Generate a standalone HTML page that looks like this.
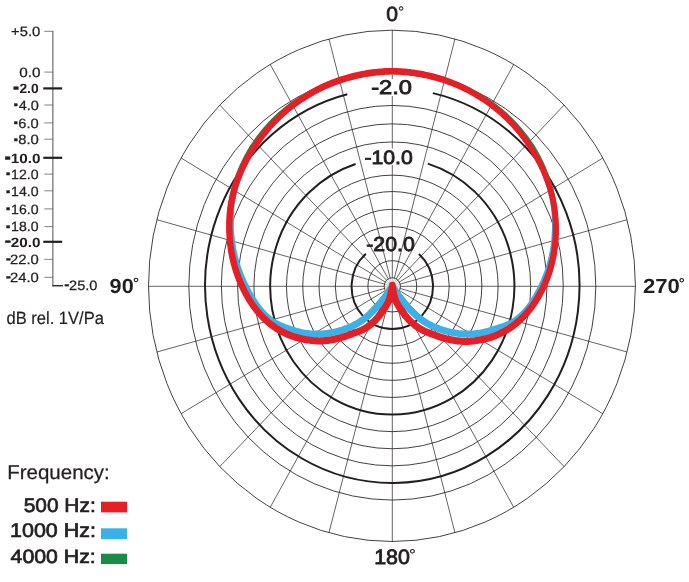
<!DOCTYPE html>
<html lang="en"><head><meta charset="utf-8"><title>Polar pattern</title>
<style>html,body{margin:0;padding:0;background:#fff}svg{display:block}</style></head>
<body>
<svg width="689" height="582" viewBox="0 0 689 582" role="img" aria-label="Polar pattern">
<rect width="689" height="582" fill="#fff"/>
<path d="M392.30 277.75V165M392.30 148.5V96M392.30 79V30.20M390.19 278.04L328.94 38.91M388.23 278.90L270.23 64.45M386.54 280.25L219.80 105.08M385.25 282.03L181.12 158.02M384.44 284.09L156.80 219.68M384.16 286.30L148.50 286.30M384.44 288.51L156.80 352.02M385.25 290.57L181.12 413.67M386.54 292.35L219.80 466.62M388.23 293.70L270.23 507.25M390.19 294.56L328.94 532.79M392.30 294.85V541.50M394.41 294.56L454.96 532.79M396.37 293.70L513.67 507.25M398.06 292.35L564.10 466.62M399.35 290.57L602.78 413.68M400.16 288.51L627.10 352.02M400.44 286.30L635.40 286.30M400.16 284.09L627.10 219.68M399.35 282.03L602.78 158.02M398.06 280.25L564.10 105.08M396.37 278.90L513.68 64.45M394.41 278.04L454.96 38.91" fill="none" stroke="#231f20" stroke-width="0.7"/>
<path d="M392.3 286.3L392.30 277.75M392.3 286.3L390.19 278.04M392.3 286.3L388.23 278.90M392.3 286.3L386.54 280.25M392.3 286.3L385.25 282.03M392.3 286.3L384.44 284.09M392.3 286.3L384.16 286.30M392.3 286.3L384.44 288.51M392.3 286.3L385.25 290.57M392.3 286.3L386.54 292.35M392.3 286.3L388.23 293.70M392.3 286.3L390.19 294.56M392.3 286.3L392.30 294.85M392.3 286.3L394.41 294.56M392.3 286.3L396.37 293.70M392.3 286.3L398.06 292.35M392.3 286.3L399.35 290.57M392.3 286.3L400.16 288.51M392.3 286.3L400.44 286.30M392.3 286.3L400.16 284.09M392.3 286.3L399.35 282.03M392.3 286.3L398.06 280.25M392.3 286.3L396.37 278.90M392.3 286.3L394.41 278.04" fill="none" stroke="#9a9a9c" stroke-width="0.5"/>
<ellipse cx="391.95" cy="285.85" rx="243.45" ry="255.65" fill="none" stroke="#231f20" stroke-width="0.85"/>
<ellipse cx="392.3" cy="286.30" rx="203.50" ry="213.75" fill="none" stroke="#231f20" stroke-width="0.85"/>
<ellipse cx="392.3" cy="285.65" rx="170.94" ry="180.20" fill="none" stroke="#231f20" stroke-width="0.85"/>
<ellipse cx="392.3" cy="286.30" rx="154.66" ry="162.45" fill="none" stroke="#231f20" stroke-width="0.85"/>
<ellipse cx="392.3" cy="286.80" rx="138.38" ry="144.85" fill="none" stroke="#231f20" stroke-width="0.85"/>
<ellipse cx="392.3" cy="286.30" rx="105.82" ry="111.15" fill="none" stroke="#231f20" stroke-width="0.85"/>
<ellipse cx="392.3" cy="285.95" rx="89.54" ry="94.40" fill="none" stroke="#231f20" stroke-width="0.85"/>
<ellipse cx="392.3" cy="286.30" rx="73.26" ry="76.95" fill="none" stroke="#231f20" stroke-width="0.85"/>
<ellipse cx="392.3" cy="286.30" rx="56.98" ry="59.85" fill="none" stroke="#231f20" stroke-width="0.85"/>
<ellipse cx="392.3" cy="286.30" rx="24.42" ry="25.65" fill="none" stroke="#231f20" stroke-width="0.85"/>
<ellipse cx="392.3" cy="286.30" rx="8.14" ry="8.55" fill="none" stroke="#231f20" stroke-width="0.85"/>
<path d="M347.32 94.23A187.22 197.25 0 1 0 432.82 93.13" fill="none" stroke="#231f20" stroke-width="2.0"/>
<path d="M355.58 163.99A122.10 128.25 0 1 0 427.79 163.59" fill="none" stroke="#231f20" stroke-width="2.0"/>
<path d="M365.92 253.74A40.70 42.75 0 1 0 418.89 253.94" fill="none" stroke="#231f20" stroke-width="2.0"/>
<path d="M392.3 286.3L392.5 287.3L392.6 288.4L392.9 289.6L393.1 290.9L393.4 292.2L393.7 293.7L394.2 295.5L394.6 297.2L395.0 298.6L395.3 299.5L395.6 300.4L395.9 301.1L396.2 301.7L396.5 302.3L396.8 302.9L397.1 303.4L397.5 304.0L397.8 304.6L398.2 305.3L398.6 306.0L399.0 306.7L399.4 307.3L399.8 308.0L400.3 308.7L400.8 309.4L401.2 310.1L401.8 310.9L402.3 311.6L402.9 312.4L403.4 313.2L404.1 314.0L404.7 314.9L405.4 315.7L406.0 316.5L406.7 317.4L407.4 318.2L408.1 319.0L408.9 319.7L409.6 320.5L410.3 321.2L411.1 321.9L411.9 322.6L412.6 323.3L413.4 324.0L414.2 324.6L415.0 325.3L415.8 325.9L416.7 326.5L417.5 327.1L418.4 327.6L419.2 328.2L420.1 328.7L420.9 329.2L421.8 329.7L422.6 330.2L423.5 330.6L424.4 331.0L425.2 331.4L426.1 331.7L427.0 332.1L427.9 332.5L428.8 332.8L429.8 333.2L430.7 333.6L431.7 333.9L432.8 334.3L433.8 334.7L434.9 335.1L436.0 335.5L437.2 335.9L438.3 336.4L439.5 336.8L440.7 337.2L441.9 337.5L443.2 337.9L444.4 338.3L445.7 338.6L447.0 338.9L448.3 339.2L449.5 339.5L450.9 339.8L452.2 340.0L453.5 340.3L454.9 340.5L456.2 340.7L457.6 340.9L459.0 341.0L460.4 341.2L461.8 341.3L463.1 341.3L464.5 341.4L465.9 341.4L467.2 341.4L468.6 341.3L469.9 341.3L471.2 341.2L472.6 341.0L473.9 340.9L475.2 340.7L476.6 340.5L477.9 340.3L479.2 340.1L480.6 339.8L481.9 339.6L483.3 339.3L484.6 339.0L486.0 338.6L487.4 338.3L488.8 337.9L490.1 337.5L491.5 337.1L492.8 336.7L494.1 336.2L495.4 335.7L496.7 335.1L498.0 334.6L499.2 334.0L500.5 333.4L501.8 332.8L503.0 332.1L504.2 331.4L505.5 330.7L506.7 330.0L507.9 329.3L509.1 328.5L510.3 327.8L511.4 327.0L512.6 326.1L513.7 325.3L514.8 324.4L515.9 323.5L517.0 322.6L518.1 321.7L519.2 320.8L520.2 319.8L521.2 318.8L522.2 317.8L523.2 316.8L524.2 315.8L525.2 314.7L526.2 313.6L527.1 312.5L528.0 311.4L529.0 310.3L529.9 309.2L530.8 308.0L531.6 306.9L532.5 305.7L533.3 304.5L534.2 303.3L535.0 302.1L535.8 300.8L536.6 299.6L537.4 298.3L538.1 297.0L538.9 295.7L539.6 294.4L540.3 293.1L541.0 291.8L541.7 290.4L542.4 289.1L543.1 287.7L543.7 286.3L544.3 284.9L545.0 283.5L545.6 282.1L546.1 280.7L546.7 279.2L547.3 277.8L547.8 276.3L548.3 274.8L548.8 273.4L549.3 271.9L549.8 270.4L550.2 268.9L550.7 267.3L551.1 265.8L551.5 264.3L551.9 262.7L552.3 261.2L552.6 259.6L553.0 258.1L553.3 256.5L553.6 254.9L553.9 253.3L554.1 251.7L554.4 250.1L554.6 248.5L554.8 246.9L555.0 245.3L555.2 243.6L555.3 242.0L555.4 240.4L555.6 238.7L555.7 237.1L555.7 235.4L555.8 233.8L555.9 232.1L555.9 230.5L555.9 228.8L555.9 227.1L555.9 225.5L555.8 223.8L555.8 222.1L555.7 220.4L555.6 218.7L555.5 217.1L555.3 215.4L555.2 213.7L555.0 212.0L554.8 210.3L554.6 208.6L554.4 206.9L554.1 205.2L553.8 203.5L553.5 201.9L553.2 200.2L552.9 198.5L552.5 196.8L552.2 195.1L551.8 193.5L551.4 191.8L550.9 190.1L550.5 188.4L550.0 186.8L549.5 185.1L549.0 183.5L548.5 181.8L547.9 180.2L547.4 178.5L546.8 176.9L546.2 175.2L545.6 173.6L544.9 171.9L544.3 170.3L543.6 168.7L542.9 167.1L542.2 165.5L541.5 163.9L540.8 162.3L540.0 160.7L539.2 159.1L538.4 157.5L537.6 156.0L536.7 154.4L535.9 152.9L535.0 151.3L534.1 149.8L533.2 148.3L532.2 146.8L531.3 145.3L530.3 143.9L529.3 142.4L528.3 141.0L527.2 139.5L526.2 138.1L525.1 136.7L524.0 135.3L523.0 133.9L521.8 132.5L520.7 131.1L519.6 129.8L518.4 128.4L517.3 127.1L516.1 125.8L514.9 124.4L513.7 123.1L512.4 121.9L511.2 120.6L509.9 119.3L508.7 118.1L507.4 116.9L506.1 115.6L504.8 114.4L503.4 113.3L502.1 112.1L500.7 110.9L499.4 109.8L498.0 108.7L496.6 107.6L495.2 106.5L493.7 105.4L492.3 104.4L490.9 103.3L489.4 102.3L487.9 101.3L486.4 100.3L485.0 99.3L483.5 98.4L481.9 97.4L480.4 96.5L478.9 95.6L477.4 94.7L475.8 93.8L474.2 93.0L472.7 92.1L471.1 91.3L469.5 90.5L467.9 89.7L466.3 88.9L464.7 88.1L463.1 87.4L461.5 86.6L459.9 85.9L458.2 85.2L456.6 84.5L454.9 83.9L453.3 83.2L451.6 82.6L449.9 82.0L448.2 81.4L446.6 80.8L444.9 80.2L443.2 79.7L441.5 79.2L439.8 78.7L438.0 78.2L436.3 77.7L434.6 77.2L432.9 76.8L431.2 76.3L429.4 75.9L427.7 75.5L425.9 75.1L424.2 74.8L422.4 74.4L420.7 74.1L418.9 73.8L417.2 73.5L415.4 73.2L413.6 73.0L411.9 72.7L410.1 72.5L408.3 72.3L406.6 72.1L404.8 71.9L403.0 71.8L401.2 71.7L399.4 71.5L397.7 71.4L395.9 71.4L394.1 71.3L392.3 71.3L390.5 71.3L388.7 71.4L386.9 71.4L385.2 71.5L383.4 71.7L381.6 71.8L379.8 71.9L378.0 72.1L376.3 72.3L374.5 72.5L372.7 72.7L371.0 73.0L369.2 73.2L367.4 73.5L365.7 73.8L363.9 74.1L362.2 74.4L360.4 74.8L358.7 75.1L356.9 75.5L355.2 75.9L353.4 76.3L351.7 76.8L350.0 77.2L348.3 77.7L346.6 78.2L344.8 78.7L343.1 79.2L341.4 79.7L339.7 80.2L338.0 80.8L336.4 81.4L334.7 82.0L333.0 82.6L331.3 83.2L329.7 83.9L328.0 84.5L326.4 85.2L324.7 85.9L323.1 86.6L321.5 87.4L319.9 88.1L318.3 88.9L316.7 89.7L315.1 90.5L313.5 91.3L311.9 92.1L310.4 93.0L308.8 93.8L307.2 94.7L305.7 95.6L304.2 96.5L302.7 97.4L301.1 98.4L299.6 99.3L298.2 100.3L296.7 101.3L295.2 102.3L293.7 103.3L292.3 104.4L290.9 105.4L289.4 106.5L288.0 107.6L286.6 108.7L285.2 109.8L283.9 110.9L282.5 112.1L281.2 113.3L279.8 114.4L278.5 115.6L277.2 116.9L275.9 118.1L274.7 119.3L273.4 120.6L272.2 121.9L270.9 123.1L269.7 124.4L268.5 125.8L267.3 127.1L266.2 128.4L265.0 129.8L263.9 131.1L262.8 132.5L261.6 133.9L260.6 135.3L259.5 136.7L258.4 138.1L257.4 139.5L256.3 141.0L255.3 142.4L254.3 143.9L253.3 145.3L252.4 146.8L251.4 148.3L250.5 149.8L249.6 151.3L248.7 152.9L247.9 154.4L247.0 156.0L246.2 157.5L245.4 159.1L244.6 160.7L243.8 162.2L243.1 163.8L242.3 165.4L241.6 167.1L240.9 168.7L240.3 170.3L239.6 171.9L239.0 173.5L238.4 175.2L237.8 176.8L237.2 178.5L236.7 180.1L236.1 181.8L235.6 183.4L235.1 185.1L234.6 186.8L234.1 188.4L233.7 190.1L233.3 191.8L232.9 193.5L232.5 195.1L232.1 196.8L231.8 198.5L231.5 200.2L231.2 201.9L230.9 203.6L230.6 205.3L230.4 207.0L230.2 208.7L230.0 210.4L229.9 212.1L229.7 213.8L229.6 215.5L229.5 217.2L229.4 218.9L229.3 220.6L229.3 222.3L229.3 224.0L229.3 225.7L229.3 227.3L229.3 229.0L229.3 230.7L229.4 232.3L229.5 234.0L229.6 235.7L229.7 237.3L229.8 239.0L229.9 240.6L230.1 242.2L230.3 243.9L230.5 245.5L230.7 247.1L230.9 248.7L231.2 250.3L231.4 251.9L231.7 253.5L232.0 255.1L232.3 256.7L232.7 258.2L233.0 259.8L233.4 261.4L233.8 262.9L234.2 264.4L234.6 266.0L235.0 267.5L235.5 269.0L235.9 270.5L236.4 272.0L236.9 273.5L237.4 274.9L238.0 276.4L238.5 277.8L239.1 279.3L239.7 280.7L240.3 282.1L240.9 283.5L241.5 284.9L242.1 286.3L242.8 287.7L243.4 289.0L244.1 290.4L244.8 291.7L245.5 293.0L246.2 294.3L246.9 295.6L247.6 296.9L248.4 298.2L249.1 299.5L249.9 300.7L250.7 301.9L251.5 303.1L252.3 304.4L253.1 305.5L254.0 306.7L254.8 307.9L255.7 309.0L256.6 310.2L257.5 311.3L258.4 312.4L259.3 313.4L260.3 314.5L261.2 315.6L262.2 316.6L263.2 317.6L264.2 318.6L265.2 319.6L266.2 320.5L267.3 321.5L268.3 322.4L269.4 323.3L270.5 324.2L271.6 325.0L272.8 325.9L273.9 326.7L275.1 327.5L276.3 328.3L277.5 329.0L278.7 329.7L279.9 330.5L281.1 331.1L282.3 331.8L283.6 332.4L284.8 333.1L286.1 333.6L287.4 334.2L288.7 334.8L289.9 335.3L291.2 335.8L292.5 336.3L293.9 336.7L295.2 337.1L296.6 337.5L297.9 337.9L299.3 338.2L300.7 338.6L302.0 338.9L303.4 339.1L304.7 339.4L306.1 339.7L307.4 339.9L308.7 340.1L310.1 340.3L311.4 340.4L312.7 340.6L314.0 340.7L315.4 340.8L316.7 340.9L318.1 340.9L319.4 340.9L320.8 340.9L322.1 340.8L323.5 340.8L324.9 340.6L326.3 340.5L327.6 340.3L329.0 340.1L330.4 339.9L331.7 339.7L333.0 339.5L334.4 339.2L335.7 338.9L336.9 338.6L338.2 338.3L339.5 338.0L340.8 337.7L342.0 337.3L343.3 336.9L344.5 336.5L345.7 336.1L346.9 335.7L348.1 335.3L349.2 334.9L350.3 334.5L351.4 334.1L352.4 333.7L353.4 333.3L354.3 333.0L355.3 332.7L356.2 332.3L357.0 332.0L357.9 331.7L358.7 331.4L359.6 331.1L360.4 330.8L361.2 330.4L362.1 330.0L362.9 329.6L363.7 329.2L364.5 328.7L365.4 328.2L366.2 327.7L367.1 327.1L367.9 326.5L368.7 325.9L369.5 325.3L370.4 324.7L371.2 324.0L372.0 323.3L372.7 322.6L373.5 321.9L374.3 321.2L375.0 320.5L375.7 319.7L376.5 319.0L377.2 318.2L377.9 317.4L378.6 316.5L379.2 315.7L379.9 314.9L380.5 314.0L381.2 313.2L381.7 312.4L382.3 311.6L382.8 310.9L383.4 310.1L383.8 309.4L384.3 308.7L384.8 308.0L385.2 307.3L385.6 306.7L386.0 306.0L386.4 305.3L386.8 304.6L387.1 304.0L387.5 303.4L387.8 302.9L388.1 302.3L388.4 301.7L388.7 301.1L389.0 300.4L389.3 299.5L389.6 298.6L390.0 297.2L390.4 295.5L390.9 293.7L391.2 292.2L391.5 290.9L391.7 289.6L392.0 288.4L392.1 287.3L392.3 286.3" fill="none" stroke="#1b8b4a" stroke-width="5.2" stroke-linejoin="round" stroke-linecap="round"/>
<path d="M389.4 288.2L392.3 292.5L395.1 296.5L397.8 300.1L400.3 303.3L402.7 306.4L404.9 309.0L406.8 311.1L408.5 313.0L410.2 314.6L411.8 316.1L413.3 317.5L414.8 318.9L416.4 320.1L417.9 321.3L419.3 322.4L420.8 323.4L422.2 324.4L423.7 325.3L425.1 326.2L426.5 327.0L427.9 327.7L429.2 328.4L430.6 329.1L432.0 329.7L433.4 330.3L434.8 330.9L436.2 331.5L437.6 332.0L439.1 332.5L440.5 333.0L442.0 333.5L443.5 334.0L444.9 334.4L446.4 334.8L447.9 335.1L449.4 335.5L450.9 335.8L452.5 336.1L454.0 336.4L455.5 336.6L457.1 336.8L458.6 337.0L460.2 337.2L461.8 337.3L463.3 337.4L464.9 337.5L466.4 337.5L468.0 337.5L469.6 337.5L471.1 337.5L472.7 337.4L474.2 337.3L475.8 337.2L477.3 337.0L478.9 336.8L480.4 336.6L481.9 336.3L483.5 336.0L485.0 335.7L486.4 335.3L487.9 334.9L489.3 334.5L490.7 334.1L492.1 333.6L493.6 333.2L495.0 332.7L496.5 332.3L498.0 331.8L499.6 331.3L501.2 330.8L502.8 330.3L504.5 329.7L506.1 329.1L507.8 328.5L509.4 327.8L511.1 327.1L512.7 326.3L514.2 325.5L515.7 324.6L517.1 323.7L518.4 322.7L519.6 321.8L520.8 320.8L522.0 319.8L523.2 318.8L524.3 317.7L525.4 316.7L526.5 315.6L527.5 314.5L528.5 313.3L529.5 312.2L530.5 311.0L531.4 309.8L532.3 308.7L533.2 307.4L534.1 306.2L535.0 305.0L535.8 303.7L536.6 302.5L537.5 301.2L538.2 299.9L539.0 298.6L539.8 297.3L540.5 296.0L541.3 294.6L542.0 293.3L542.7 291.9L543.4 290.6L544.1 289.2L544.8 287.8L545.4 286.4L546.1 285.0L546.8 283.5L547.4 282.1L548.0 280.6L548.6 279.1L549.2 277.7L549.7 276.2L550.3 274.7L550.8 273.1L551.3 271.6L551.8 270.1L552.2 268.5L552.7 267.0L553.1 265.4L553.5 263.8L553.9 262.2L554.3 260.6L554.7 259.0L555.0 257.4L555.3 255.8L555.6 254.2L555.9 252.6L556.2 250.9L556.4 249.3L556.6 247.6L556.8 246.0L557.0 244.3L557.2 242.7L557.3 241.0L557.4 239.3L557.5 237.6L557.6 236.0L557.7 234.3L557.8 232.6L557.8 230.9L557.8 229.2L557.8 227.5L557.8 225.8L557.8 224.1L557.7 222.4L557.6 220.7L557.5 219.0L557.4 217.2L557.3 215.5L557.1 213.8L557.0 212.1L556.8 210.4L556.5 208.6L556.3 206.9L556.0 205.2L555.7 203.5L555.4 201.8L555.1 200.1L554.7 198.3L554.4 196.6L554.0 194.9L553.5 193.2L553.1 191.6L552.6 189.9L552.1 188.2L551.6 186.5L551.1 184.9L550.5 183.2L550.0 181.6L549.4 179.9L548.8 178.3L548.1 176.6L547.5 175.0L546.8 173.4L546.1 171.8L545.4 170.2L544.7 168.5L544.0 167.0L543.2 165.4L542.4 163.8L541.6 162.2L540.8 160.6L540.0 159.1L539.1 157.5L538.3 156.0L537.4 154.5L536.5 152.9L535.6 151.4L534.7 149.9L533.7 148.4L532.8 146.9L531.8 145.4L530.8 144.0L529.8 142.5L528.8 141.0L527.8 139.6L526.8 138.1L525.7 136.7L524.6 135.3L523.5 133.9L522.4 132.5L521.3 131.1L520.2 129.7L519.0 128.3L517.9 127.0L516.7 125.6L515.5 124.3L514.3 122.9L513.1 121.6L511.9 120.3L510.6 119.0L509.4 117.8L508.1 116.5L506.8 115.2L505.5 114.0L504.2 112.8L502.9 111.6L501.5 110.4L500.1 109.2L498.8 108.0L497.4 106.9L496.0 105.7L494.6 104.6L493.1 103.5L491.7 102.5L490.3 101.4L488.8 100.3L487.3 99.3L485.9 98.3L484.4 97.3L482.9 96.3L481.4 95.3L479.8 94.3L478.3 93.4L476.8 92.4L475.2 91.5L473.6 90.6L472.1 89.7L470.5 88.8L468.9 88.0L467.3 87.1L465.7 86.3L464.0 85.5L462.4 84.7L460.8 84.0L459.1 83.2L457.5 82.5L455.8 81.8L454.1 81.1L452.4 80.4L450.8 79.8L449.1 79.2L447.3 78.6L445.6 78.0L443.9 77.4L442.2 76.9L440.5 76.3L438.7 75.8L437.0 75.3L435.3 74.8L433.5 74.3L431.8 73.9L430.0 73.5L428.3 73.0L426.5 72.6L424.7 72.3L422.9 71.9L421.2 71.6L419.4 71.2L417.6 70.9L415.8 70.6L414.0 70.4L412.2 70.1L410.4 69.9L408.6 69.7L406.8 69.5L405.0 69.3L403.2 69.1L401.4 69.0L399.6 68.9L397.8 68.8L396.0 68.7L394.1 68.7L392.3 68.6L390.5 68.7L388.6 68.7L386.8 68.8L385.0 68.9L383.2 69.0L381.4 69.1L379.6 69.3L377.8 69.4L376.0 69.6L374.2 69.8L372.4 70.0L370.6 70.3L368.8 70.6L367.0 70.8L365.2 71.1L363.4 71.5L361.6 71.8L359.9 72.2L358.1 72.5L356.3 72.9L354.6 73.3L352.8 73.8L351.0 74.2L349.3 74.7L347.6 75.2L345.8 75.7L344.1 76.2L342.4 76.7L340.6 77.3L338.9 77.8L337.2 78.4L335.5 79.0L333.8 79.6L332.1 80.3L330.4 80.9L328.7 81.6L327.1 82.3L325.4 83.1L323.7 83.8L322.1 84.6L320.5 85.3L318.8 86.1L317.2 87.0L315.6 87.8L314.0 88.6L312.4 89.5L310.9 90.4L309.3 91.3L307.7 92.2L306.2 93.2L304.6 94.1L303.1 95.1L301.6 96.1L300.1 97.1L298.6 98.1L297.1 99.1L295.7 100.1L294.2 101.2L292.7 102.2L291.3 103.3L289.9 104.4L288.5 105.5L287.0 106.7L285.7 107.8L284.3 109.0L282.9 110.2L281.6 111.4L280.2 112.6L278.9 113.8L277.6 115.0L276.3 116.3L275.0 117.5L273.8 118.8L272.5 120.1L271.3 121.4L270.0 122.7L268.8 124.1L267.7 125.4L266.5 126.8L265.3 128.1L264.2 129.5L263.0 130.9L261.9 132.3L260.8 133.7L259.7 135.1L258.7 136.5L257.6 138.0L256.6 139.4L255.5 140.9L254.5 142.3L253.5 143.8L252.5 145.3L251.6 146.8L250.6 148.3L249.7 149.8L248.8 151.3L247.9 152.8L247.0 154.4L246.1 155.9L245.3 157.5L244.4 159.0L243.6 160.6L242.8 162.2L242.0 163.8L241.3 165.4L240.5 167.0L239.8 168.6L239.1 170.2L238.4 171.8L237.7 173.4L237.1 175.1L236.5 176.7L235.8 178.4L235.2 180.0L234.7 181.7L234.1 183.3L233.6 185.0L233.1 186.7L232.6 188.4L232.1 190.1L231.7 191.8L231.3 193.5L230.9 195.2L230.5 196.9L230.2 198.6L229.8 200.4L229.6 202.1L229.3 203.8L229.0 205.6L228.8 207.3L228.6 209.0L228.4 210.8L228.3 212.5L228.2 214.2L228.1 216.0L228.0 217.7L227.9 219.4L227.9 221.2L227.8 222.9L227.8 224.6L227.8 226.3L227.9 228.0L227.9 229.7L228.0 231.4L228.1 233.1L228.2 234.8L228.3 236.5L228.5 238.2L228.6 239.8L228.8 241.5L229.0 243.2L229.2 244.8L229.4 246.5L229.6 248.1L229.9 249.8L230.2 251.4L230.5 253.0L230.8 254.7L231.2 256.3L231.5 257.9L231.9 259.5L232.3 261.1L232.7 262.6L233.1 264.2L233.6 265.8L234.1 267.3L234.5 268.9L235.0 270.4L235.6 271.9L236.1 273.4L236.7 274.9L237.2 276.4L237.8 277.9L238.4 279.3L239.0 280.8L239.6 282.2L240.3 283.6L240.9 285.1L241.6 286.5L242.3 287.8L243.0 289.2L243.7 290.6L244.4 291.9L245.1 293.2L245.8 294.5L246.5 295.8L247.2 297.1L248.0 298.4L248.7 299.7L249.5 301.0L250.3 302.2L251.1 303.5L251.9 304.7L252.7 305.9L253.6 307.1L254.5 308.3L255.3 309.5L256.3 310.6L257.2 311.8L258.1 312.9L259.1 314.0L260.1 315.1L261.1 316.2L262.2 317.3L263.2 318.3L264.3 319.3L265.5 320.3L266.6 321.3L267.8 322.3L269.0 323.2L270.3 324.1L271.7 325.0L273.1 325.9L274.5 326.7L276.0 327.4L277.5 328.1L279.0 328.8L280.6 329.4L282.1 330.0L283.6 330.6L285.1 331.2L286.6 331.7L288.1 332.2L289.5 332.7L290.9 333.2L292.4 333.7L293.8 334.1L295.3 334.5L296.7 335.0L298.2 335.3L299.6 335.7L301.1 336.0L302.7 336.3L304.2 336.6L305.7 336.8L307.3 337.0L308.8 337.2L310.4 337.3L311.9 337.4L313.5 337.5L315.0 337.5L316.6 337.5L318.2 337.5L319.7 337.5L321.3 337.4L322.8 337.3L324.4 337.2L326.0 337.0L327.5 336.8L329.1 336.6L330.6 336.4L332.1 336.1L333.7 335.8L335.2 335.5L336.7 335.1L338.2 334.8L339.7 334.4L341.1 334.0L342.6 333.5L344.1 333.0L345.5 332.5L347.0 332.0L348.4 331.5L349.8 330.9L351.2 330.3L352.6 329.7L354.0 329.1L355.4 328.4L356.7 327.7L358.1 327.0L359.5 326.2L360.9 325.3L362.4 324.4L363.8 323.4L365.3 322.4L366.7 321.3L368.2 320.1L369.8 318.9L371.3 317.5L372.8 316.1L374.4 314.6L376.1 313.0L377.8 311.1L379.7 309.0L381.9 306.4L384.3 303.3L386.8 300.1L389.5 296.5L392.3 292.5L395.2 288.2L389.4 284.4L386.6 288.6L383.9 292.4L381.3 295.9L378.9 299.1L376.6 302.0L374.5 304.5L372.7 306.4L371.1 308.2L369.6 309.7L368.1 311.1L366.7 312.4L365.3 313.6L363.9 314.8L362.5 315.8L361.2 316.8L359.9 317.8L358.6 318.6L357.3 319.5L356.0 320.2L354.8 320.9L353.5 321.6L352.3 322.2L351.1 322.8L349.8 323.4L348.5 324.0L347.2 324.5L345.9 325.1L344.6 325.6L343.2 326.0L341.9 326.5L340.6 326.9L339.2 327.3L337.8 327.7L336.5 328.1L335.1 328.4L333.7 328.7L332.3 329.0L330.9 329.3L329.5 329.6L328.0 329.8L326.6 330.0L325.2 330.2L323.8 330.3L322.3 330.4L320.9 330.5L319.5 330.6L318.0 330.6L316.6 330.6L315.2 330.6L313.7 330.6L312.3 330.5L310.9 330.4L309.5 330.3L308.1 330.1L306.7 330.0L305.3 329.8L303.9 329.5L302.5 329.3L301.2 329.0L299.9 328.6L298.5 328.3L297.2 327.9L295.8 327.5L294.5 327.1L293.1 326.6L291.8 326.2L290.3 325.7L288.9 325.2L287.5 324.7L286.0 324.2L284.6 323.6L283.2 323.0L281.8 322.5L280.4 321.8L279.1 321.2L277.8 320.5L276.5 319.9L275.3 319.2L274.2 318.4L273.1 317.7L272.1 316.8L271.0 316.0L270.0 315.1L269.0 314.2L268.0 313.3L267.0 312.4L266.1 311.4L265.2 310.4L264.3 309.4L263.4 308.4L262.5 307.4L261.7 306.3L260.8 305.3L260.0 304.2L259.2 303.1L258.4 302.0L257.6 300.8L256.9 299.7L256.1 298.5L255.4 297.3L254.7 296.1L253.9 294.9L253.2 293.7L252.5 292.5L251.8 291.2L251.1 290.0L250.5 288.7L249.8 287.4L249.1 286.1L248.5 284.8L247.8 283.4L247.2 282.1L246.5 280.8L245.9 279.4L245.3 278.0L244.7 276.7L244.1 275.3L243.6 273.9L243.0 272.5L242.5 271.1L242.0 269.6L241.4 268.2L240.9 266.8L240.5 265.3L240.0 263.8L239.5 262.3L239.1 260.9L238.7 259.4L238.3 257.9L237.9 256.3L237.5 254.8L237.2 253.3L236.8 251.8L236.5 250.2L236.2 248.7L236.0 247.1L235.7 245.5L235.5 244.0L235.2 242.4L235.0 240.8L234.8 239.2L234.7 237.6L234.5 236.0L234.4 234.4L234.2 232.7L234.1 231.1L234.0 229.5L233.9 227.8L233.9 226.2L233.8 224.5L233.8 222.9L233.8 221.2L233.8 219.6L233.8 217.9L233.9 216.2L233.9 214.6L234.0 212.9L234.2 211.2L234.3 209.6L234.4 207.9L234.6 206.3L234.8 204.6L235.1 202.9L235.3 201.3L235.6 199.6L235.9 198.0L236.2 196.3L236.6 194.7L236.9 193.1L237.4 191.4L237.8 189.8L238.2 188.2L238.7 186.6L239.2 185.0L239.7 183.3L240.2 181.7L240.8 180.1L241.4 178.5L242.0 176.9L242.6 175.4L243.2 173.8L243.9 172.2L244.5 170.6L245.2 169.1L245.9 167.5L246.6 166.0L247.4 164.4L248.1 162.9L248.9 161.4L249.7 159.9L250.5 158.4L251.4 156.9L252.2 155.4L253.1 153.9L254.0 152.4L254.9 150.9L255.8 149.5L256.7 148.0L257.7 146.6L258.6 145.2L259.6 143.7L260.6 142.3L261.6 140.9L262.7 139.5L263.7 138.1L264.8 136.8L265.8 135.4L266.9 134.0L268.0 132.7L269.2 131.4L270.3 130.0L271.4 128.7L272.6 127.4L273.8 126.2L275.0 124.9L276.2 123.6L277.4 122.4L278.6 121.1L279.9 119.9L281.1 118.7L282.4 117.5L283.7 116.4L285.0 115.2L286.3 114.0L287.6 112.9L289.0 111.8L290.3 110.7L291.7 109.6L293.0 108.5L294.4 107.5L295.8 106.4L297.3 105.4L298.7 104.4L300.1 103.4L301.6 102.4L303.0 101.4L304.5 100.5L306.0 99.5L307.5 98.6L308.9 97.7L310.4 96.8L312.0 95.9L313.5 95.1L315.0 94.2L316.6 93.4L318.1 92.6L319.7 91.8L321.2 91.0L322.8 90.2L324.4 89.5L326.0 88.7L327.6 88.0L329.2 87.3L330.8 86.6L332.4 86.0L334.1 85.4L335.7 84.7L337.3 84.1L339.0 83.6L340.6 83.0L342.3 82.5L344.0 81.9L345.7 81.4L347.3 80.9L349.0 80.5L350.7 80.0L352.4 79.5L354.1 79.1L355.8 78.7L357.5 78.3L359.3 77.9L361.0 77.6L362.7 77.2L364.4 76.9L366.1 76.6L367.9 76.3L369.6 76.0L371.3 75.8L373.1 75.6L374.8 75.3L376.6 75.1L378.3 75.0L380.1 74.8L381.8 74.7L383.6 74.5L385.3 74.4L387.1 74.4L388.8 74.3L390.6 74.3L392.3 74.2L394.0 74.3L395.8 74.3L397.5 74.3L399.3 74.4L401.0 74.5L402.8 74.6L404.5 74.8L406.3 74.9L408.0 75.1L409.8 75.3L411.5 75.5L413.3 75.7L415.0 76.0L416.7 76.2L418.5 76.5L420.2 76.8L421.9 77.1L423.6 77.5L425.4 77.8L427.1 78.2L428.8 78.6L430.5 79.0L432.2 79.4L433.9 79.9L435.6 80.3L437.3 80.8L439.0 81.3L440.7 81.8L442.3 82.3L444.0 82.8L445.7 83.4L447.3 84.0L449.0 84.6L450.6 85.2L452.2 85.8L453.9 86.5L455.5 87.1L457.1 87.8L458.7 88.5L460.3 89.3L461.9 90.0L463.5 90.8L465.0 91.6L466.6 92.4L468.1 93.2L469.7 94.0L471.2 94.9L472.8 95.7L474.3 96.6L475.8 97.5L477.3 98.4L478.8 99.3L480.2 100.3L481.7 101.2L483.2 102.2L484.6 103.2L486.1 104.2L487.5 105.2L488.9 106.2L490.3 107.3L491.7 108.3L493.1 109.4L494.5 110.5L495.8 111.6L497.2 112.7L498.5 113.8L499.8 115.0L501.1 116.2L502.4 117.3L503.7 118.5L504.9 119.7L506.2 121.0L507.4 122.2L508.6 123.4L509.8 124.7L511.0 126.0L512.2 127.3L513.4 128.6L514.5 129.9L515.7 131.2L516.8 132.5L517.9 133.9L519.0 135.2L520.1 136.6L521.1 138.0L522.2 139.4L523.2 140.8L524.2 142.2L525.2 143.6L526.2 145.0L527.2 146.4L528.1 147.9L529.1 149.3L530.0 150.8L530.9 152.2L531.8 153.7L532.7 155.2L533.5 156.7L534.4 158.2L535.2 159.7L536.0 161.2L536.8 162.7L537.6 164.3L538.3 165.8L539.0 167.3L539.8 168.9L540.5 170.5L541.1 172.0L541.8 173.6L542.4 175.2L543.1 176.7L543.7 178.3L544.2 179.9L544.8 181.5L545.4 183.1L545.9 184.7L546.4 186.4L546.9 188.0L547.3 189.6L547.8 191.2L548.2 192.8L548.6 194.5L549.0 196.1L549.4 197.7L549.7 199.4L550.0 201.0L550.3 202.7L550.5 204.3L550.8 206.0L551.0 207.6L551.2 209.3L551.4 210.9L551.5 212.6L551.7 214.3L551.8 215.9L551.9 217.6L551.9 219.2L552.0 220.9L552.0 222.5L552.0 224.2L552.0 225.8L552.0 227.5L552.0 229.1L551.9 230.7L551.8 232.4L551.7 234.0L551.6 235.6L551.5 237.2L551.4 238.8L551.2 240.4L551.1 242.0L550.9 243.6L550.7 245.2L550.4 246.8L550.2 248.3L549.9 249.9L549.7 251.5L549.4 253.0L549.0 254.5L548.7 256.1L548.3 257.6L548.0 259.1L547.6 260.6L547.2 262.1L546.8 263.6L546.3 265.1L545.9 266.6L545.4 268.0L544.9 269.5L544.4 270.9L543.9 272.4L543.3 273.8L542.8 275.2L542.2 276.6L541.7 278.0L541.1 279.4L540.5 280.7L539.8 282.1L539.2 283.4L538.6 284.8L537.9 286.1L537.2 287.5L536.6 288.8L535.9 290.1L535.2 291.3L534.5 292.6L533.8 293.9L533.1 295.1L532.3 296.3L531.6 297.5L530.8 298.7L530.1 299.9L529.3 301.1L528.5 302.2L527.7 303.4L526.8 304.5L526.0 305.6L525.1 306.7L524.2 307.7L523.3 308.8L522.4 309.8L521.5 310.8L520.5 311.8L519.5 312.7L518.5 313.7L517.5 314.6L516.4 315.5L515.3 316.4L514.2 317.2L513.1 318.0L512.0 318.8L510.8 319.5L509.5 320.2L508.2 320.8L506.7 321.5L505.3 322.1L503.8 322.7L502.2 323.2L500.7 323.7L499.1 324.2L497.5 324.7L496.0 325.2L494.4 325.7L492.9 326.2L491.5 326.6L490.1 327.1L488.7 327.5L487.3 327.9L486.0 328.3L484.7 328.6L483.4 329.0L482.0 329.3L480.7 329.5L479.3 329.8L477.9 330.0L476.5 330.1L475.1 330.3L473.7 330.4L472.3 330.5L470.9 330.6L469.4 330.6L468.0 330.6L466.6 330.6L465.1 330.6L463.7 330.5L462.3 330.4L460.8 330.3L459.4 330.2L458.0 330.0L456.6 329.8L455.1 329.6L453.7 329.3L452.3 329.0L450.9 328.7L449.5 328.4L448.1 328.1L446.8 327.7L445.4 327.3L444.0 326.9L442.7 326.5L441.4 326.0L440.0 325.6L438.7 325.1L437.4 324.5L436.1 324.0L434.8 323.4L433.5 322.8L432.3 322.2L431.1 321.6L429.8 320.9L428.6 320.2L427.3 319.5L426.0 318.6L424.7 317.8L423.4 316.8L422.1 315.8L420.7 314.8L419.3 313.6L417.9 312.4L416.5 311.1L415.0 309.7L413.5 308.2L411.9 306.4L410.1 304.5L408.0 302.0L405.7 299.1L403.3 295.9L400.7 292.4L398.0 288.6L395.2 284.4Z" fill="#3ab2e8"/>
<path d="M388.8 286.8L389.0 287.9L389.2 289.0L389.4 290.2L389.7 291.6L390.0 292.9L390.3 294.5L390.8 296.3L391.2 298.1L391.7 299.6L392.0 300.7L392.4 301.7L392.7 302.5L393.1 303.2L393.4 303.9L393.7 304.5L394.1 305.1L394.4 305.7L394.7 306.3L395.1 307.1L395.6 307.8L396.0 308.5L396.4 309.2L396.9 309.9L397.4 310.7L397.9 311.4L398.4 312.1L398.9 312.9L399.4 313.7L400.0 314.5L400.6 315.3L401.3 316.2L401.9 317.0L402.6 317.9L403.3 318.8L404.1 319.6L404.8 320.5L405.6 321.3L406.3 322.2L407.1 323.0L407.9 323.7L408.7 324.5L409.5 325.2L410.3 325.9L411.2 326.6L412.0 327.3L412.9 328.0L413.7 328.7L414.6 329.3L415.5 330.0L416.4 330.6L417.3 331.2L418.3 331.7L419.2 332.3L420.1 332.8L421.0 333.3L422.0 333.7L422.9 334.2L423.8 334.6L424.7 335.0L425.7 335.4L426.6 335.7L427.6 336.1L428.5 336.5L429.5 336.9L430.5 337.2L431.5 337.6L432.6 338.0L433.7 338.4L434.8 338.8L436.0 339.3L437.2 339.7L438.4 340.1L439.6 340.5L440.9 340.9L442.2 341.3L443.5 341.7L444.8 342.0L446.2 342.4L447.5 342.7L448.8 343.0L450.2 343.2L451.5 343.5L452.9 343.7L454.3 344.0L455.7 344.2L457.2 344.4L458.6 344.6L460.1 344.7L461.5 344.8L463.0 344.9L464.4 344.9L465.9 345.0L467.3 344.9L468.7 344.9L470.1 344.8L471.5 344.7L472.9 344.6L474.3 344.4L475.7 344.2L477.1 344.0L478.5 343.8L479.9 343.6L481.3 343.3L482.6 343.0L484.0 342.7L485.4 342.4L486.9 342.1L488.3 341.7L489.7 341.3L491.1 340.9L492.6 340.4L494.0 340.0L495.4 339.4L496.7 338.9L498.1 338.3L499.4 337.8L500.7 337.1L502.0 336.5L503.3 335.9L504.6 335.2L505.9 334.5L507.2 333.8L508.5 333.0L509.7 332.2L511.0 331.4L512.2 330.6L513.4 329.8L514.6 328.9L515.8 328.0L517.0 327.1L518.1 326.2L519.2 325.2L520.4 324.3L521.5 323.3L522.5 322.3L523.6 321.2L524.6 320.2L525.7 319.1L526.7 318.1L527.7 317.0L528.7 315.9L529.7 314.7L530.6 313.6L531.6 312.4L532.5 311.3L533.4 310.1L534.3 308.9L535.2 307.6L536.1 306.4L536.9 305.1L537.8 303.9L538.6 302.6L539.4 301.3L540.2 300.0L541.0 298.7L541.7 297.3L542.5 296.0L543.2 294.6L543.9 293.3L544.6 291.9L545.3 290.5L546.0 289.1L546.7 287.7L547.3 286.2L547.9 284.8L548.5 283.3L549.1 281.9L549.7 280.4L550.3 278.9L550.8 277.4L551.4 275.9L551.9 274.4L552.4 272.9L552.9 271.3L553.3 269.8L553.8 268.2L554.2 266.6L554.6 265.1L555.0 263.5L555.4 261.9L555.7 260.3L556.1 258.7L556.4 257.1L556.7 255.5L557.0 253.8L557.3 252.2L557.5 250.6L557.7 248.9L557.9 247.3L558.1 245.6L558.3 243.9L558.4 242.3L558.5 240.6L558.6 238.9L558.7 237.3L558.8 235.6L558.9 233.9L558.9 232.2L558.9 230.5L558.9 228.8L558.9 227.1L558.9 225.4L558.8 223.7L558.7 222.0L558.6 220.3L558.5 218.6L558.4 216.9L558.2 215.1L558.1 213.4L557.9 211.7L557.7 210.0L557.4 208.3L557.2 206.5L556.9 204.8L556.6 203.1L556.3 201.4L555.9 199.7L555.6 198.0L555.2 196.3L554.8 194.6L554.3 192.9L553.9 191.2L553.4 189.5L552.9 187.8L552.4 186.2L551.8 184.5L551.3 182.8L550.7 181.2L550.1 179.5L549.5 177.9L548.9 176.2L548.2 174.6L547.5 173.0L546.8 171.4L546.1 169.8L545.4 168.1L544.7 166.5L543.9 165.0L543.1 163.4L542.3 161.8L541.5 160.2L540.7 158.7L539.8 157.1L539.0 155.5L538.1 154.0L537.2 152.5L536.3 151.0L535.4 149.4L534.4 147.9L533.5 146.4L532.5 144.9L531.5 143.5L530.5 142.0L529.5 140.5L528.4 139.1L527.4 137.6L526.3 136.2L525.2 134.8L524.2 133.4L523.0 132.0L521.9 130.6L520.8 129.2L519.6 127.8L518.5 126.4L517.3 125.1L516.1 123.7L514.9 122.4L513.7 121.1L512.4 119.7L511.2 118.4L509.9 117.2L508.6 115.9L507.4 114.6L506.0 113.4L504.7 112.2L503.4 110.9L502.0 109.7L500.7 108.5L499.3 107.4L497.9 106.2L496.5 105.1L495.1 104.0L493.6 102.9L492.2 101.8L490.7 100.7L489.3 99.6L487.8 98.6L486.3 97.6L484.8 96.6L483.3 95.6L481.8 94.6L480.2 93.6L478.7 92.6L477.2 91.7L475.6 90.8L474.0 89.9L472.4 89.0L470.9 88.1L469.3 87.2L467.6 86.4L466.0 85.6L464.4 84.8L462.7 84.0L461.1 83.2L459.4 82.5L457.8 81.8L456.1 81.0L454.4 80.4L452.7 79.7L451.0 79.0L449.3 78.4L447.6 77.8L445.9 77.2L444.2 76.6L442.4 76.1L440.7 75.6L439.0 75.0L437.2 74.5L435.5 74.0L433.7 73.6L431.9 73.1L430.2 72.7L428.4 72.3L426.6 71.9L424.9 71.5L423.1 71.1L421.3 70.8L419.5 70.5L417.7 70.2L415.9 69.9L414.1 69.6L412.3 69.4L410.5 69.1L408.7 68.9L406.9 68.7L405.1 68.6L403.3 68.4L401.4 68.3L399.6 68.2L397.8 68.1L396.0 68.0L394.2 67.9L392.3 67.9L390.4 67.9L388.6 68.0L386.8 68.1L385.0 68.1L383.2 68.3L381.3 68.4L379.5 68.5L377.7 68.7L375.9 68.9L374.1 69.1L372.3 69.3L370.5 69.6L368.7 69.8L366.9 70.1L365.1 70.4L363.3 70.7L361.5 71.1L359.7 71.4L357.9 71.8L356.2 72.2L354.4 72.6L352.6 73.0L350.9 73.5L349.1 74.0L347.4 74.4L345.6 74.9L343.9 75.5L342.1 76.0L340.4 76.5L338.7 77.1L337.0 77.7L335.2 78.3L333.5 78.9L331.8 79.6L330.1 80.2L328.5 80.9L326.8 81.6L325.1 82.4L323.4 83.1L321.8 83.9L320.1 84.6L318.5 85.4L316.9 86.3L315.3 87.1L313.7 88.0L312.1 88.8L310.5 89.7L308.9 90.6L307.3 91.5L305.8 92.5L304.3 93.4L302.7 94.4L301.2 95.4L299.7 96.4L298.2 97.4L296.7 98.4L295.2 99.5L293.7 100.5L292.3 101.6L290.8 102.7L289.4 103.8L288.0 104.9L286.6 106.0L285.2 107.2L283.8 108.4L282.4 109.5L281.0 110.7L279.7 112.0L278.4 113.2L277.1 114.4L275.8 115.7L274.5 117.0L273.2 118.3L272.0 119.6L270.7 120.9L269.5 122.2L268.3 123.5L267.1 124.9L265.9 126.2L264.7 127.6L263.6 129.0L262.4 130.4L261.3 131.8L260.2 133.2L259.1 134.6L258.0 136.0L257.0 137.5L255.9 138.9L254.9 140.4L253.9 141.8L252.9 143.3L251.9 144.8L250.9 146.3L249.9 147.8L249.0 149.3L248.1 150.8L247.1 152.3L246.2 153.8L245.4 155.4L244.5 156.9L243.6 158.5L242.8 160.1L242.0 161.6L241.2 163.2L240.4 164.8L239.7 166.4L238.9 168.0L238.2 169.6L237.5 171.2L236.8 172.9L236.1 174.5L235.5 176.1L234.8 177.8L234.2 179.4L233.6 181.1L233.1 182.8L232.5 184.4L232.0 186.1L231.5 187.8L231.0 189.5L230.5 191.2L230.1 192.9L229.7 194.6L229.3 196.3L228.9 198.0L228.6 199.7L228.2 201.5L227.9 203.2L227.7 204.9L227.4 206.7L227.2 208.4L227.0 210.1L226.8 211.9L226.6 213.6L226.5 215.3L226.4 217.1L226.3 218.8L226.2 220.5L226.2 222.2L226.1 223.9L226.1 225.7L226.1 227.4L226.1 229.1L226.2 230.8L226.2 232.5L226.3 234.2L226.4 235.9L226.5 237.5L226.6 239.2L226.7 240.9L226.9 242.5L227.1 244.2L227.3 245.9L227.5 247.5L227.7 249.2L227.9 250.8L228.2 252.5L228.5 254.1L228.8 255.7L229.1 257.3L229.5 258.9L229.8 260.5L230.2 262.1L230.6 263.7L231.0 265.3L231.5 266.8L231.9 268.4L232.4 269.9L232.8 271.5L233.3 273.0L233.9 274.5L234.4 276.0L234.9 277.5L235.5 279.0L236.1 280.5L236.7 281.9L237.3 283.4L237.9 284.8L238.5 286.3L239.2 287.7L239.8 289.1L240.5 290.5L241.2 291.8L241.9 293.2L242.6 294.6L243.3 295.9L244.1 297.2L244.8 298.6L245.6 299.9L246.3 301.2L247.1 302.5L247.9 303.7L248.8 305.0L249.6 306.2L250.4 307.4L251.3 308.7L252.2 309.9L253.1 311.0L254.0 312.2L254.9 313.4L255.9 314.5L256.8 315.6L257.8 316.7L258.8 317.8L259.8 318.9L260.8 320.0L261.8 321.0L262.9 322.0L264.0 323.0L265.0 324.0L266.1 325.0L267.3 325.9L268.4 326.9L269.6 327.8L270.8 328.7L272.0 329.5L273.2 330.3L274.4 331.2L275.6 331.9L276.9 332.7L278.2 333.5L279.4 334.2L280.7 334.9L282.0 335.5L283.3 336.2L284.7 336.8L286.0 337.4L287.3 338.0L288.6 338.5L290.0 339.1L291.4 339.6L292.8 340.1L294.2 340.5L295.6 340.9L297.1 341.3L298.5 341.7L299.9 342.0L301.3 342.3L302.7 342.6L304.1 342.9L305.5 343.1L306.8 343.4L308.2 343.6L309.6 343.8L311.0 344.0L312.4 344.1L313.8 344.2L315.2 344.3L316.6 344.4L318.0 344.5L319.4 344.5L320.9 344.4L322.3 344.4L323.8 344.3L325.2 344.2L326.6 344.0L328.1 343.9L329.5 343.7L330.9 343.4L332.3 343.2L333.7 342.9L335.1 342.7L336.4 342.4L337.7 342.1L339.1 341.8L340.4 341.4L341.7 341.1L343.0 340.7L344.3 340.3L345.6 339.9L346.9 339.4L348.1 339.0L349.3 338.6L350.4 338.2L351.5 337.8L352.6 337.4L353.6 337.0L354.6 336.6L355.5 336.3L356.4 336.0L357.3 335.7L358.2 335.3L359.1 335.0L360.0 334.7L360.9 334.4L361.8 334.0L362.6 333.6L363.5 333.2L364.5 332.8L365.4 332.3L366.3 331.8L367.2 331.2L368.1 330.6L369.0 330.0L369.9 329.4L370.8 328.7L371.7 328.1L372.6 327.4L373.4 326.7L374.3 325.9L375.1 325.2L375.9 324.5L376.7 323.7L377.5 323.0L378.3 322.2L379.0 321.3L379.8 320.5L380.5 319.6L381.3 318.8L382.0 317.9L382.7 317.0L383.3 316.2L384.0 315.3L384.6 314.5L385.2 313.7L385.7 312.9L386.2 312.1L386.7 311.4L387.2 310.7L387.7 309.9L388.2 309.2L388.6 308.5L389.0 307.8L389.5 307.1L389.9 306.3L390.2 305.7L390.5 305.1L390.9 304.5L391.2 303.9L391.5 303.2L391.9 302.5L392.2 301.7L392.6 300.7L392.9 299.6L393.4 298.1L393.8 296.3L394.3 294.5L394.6 292.9L394.9 291.6L395.2 290.2L395.4 289.0L395.6 287.9L395.8 286.8L388.8 285.8L388.7 286.8L388.5 287.8L388.3 288.9L388.1 290.1L387.8 291.4L387.5 292.9L387.0 294.6L386.6 296.3L386.3 297.5L386.0 298.4L385.7 299.1L385.5 299.7L385.2 300.2L385.0 300.7L384.7 301.2L384.4 301.7L384.1 302.3L383.7 303.0L383.4 303.6L383.0 304.2L382.6 304.9L382.2 305.5L381.8 306.1L381.4 306.8L380.9 307.5L380.5 308.2L380.0 308.9L379.5 309.6L378.9 310.4L378.3 311.1L377.8 311.9L377.1 312.7L376.5 313.5L375.9 314.3L375.2 315.1L374.6 315.8L373.9 316.6L373.2 317.3L372.5 318.0L371.8 318.7L371.1 319.3L370.4 320.0L369.7 320.7L368.9 321.3L368.2 321.9L367.4 322.5L366.6 323.1L365.9 323.7L365.1 324.2L364.3 324.8L363.5 325.2L362.8 325.7L362.0 326.1L361.3 326.5L360.6 326.9L359.8 327.2L359.1 327.5L358.3 327.8L357.5 328.1L356.7 328.4L355.9 328.7L355.0 329.0L354.1 329.3L353.2 329.7L352.2 330.0L351.2 330.4L350.1 330.8L349.1 331.1L348.0 331.5L346.9 332.0L345.7 332.4L344.6 332.8L343.4 333.2L342.2 333.5L341.0 333.9L339.8 334.3L338.6 334.6L337.4 334.9L336.2 335.2L334.9 335.5L333.7 335.7L332.4 336.0L331.1 336.2L329.8 336.4L328.5 336.6L327.2 336.8L325.9 337.0L324.5 337.1L323.2 337.2L321.9 337.3L320.7 337.3L319.4 337.4L318.1 337.4L316.9 337.3L315.6 337.3L314.3 337.2L313.1 337.1L311.8 336.9L310.5 336.8L309.3 336.6L308.0 336.4L306.7 336.2L305.4 335.9L304.1 335.7L302.8 335.4L301.4 335.1L300.1 334.8L298.8 334.5L297.5 334.1L296.2 333.8L294.9 333.4L293.7 333.0L292.5 332.5L291.2 332.1L290.0 331.6L288.8 331.0L287.6 330.5L286.3 329.9L285.1 329.3L283.9 328.7L282.8 328.1L281.6 327.5L280.4 326.8L279.3 326.1L278.1 325.4L277.0 324.6L275.9 323.9L274.8 323.1L273.7 322.3L272.6 321.5L271.6 320.7L270.5 319.8L269.5 318.9L268.5 318.1L267.5 317.1L266.6 316.2L265.6 315.2L264.6 314.3L263.7 313.3L262.8 312.3L261.9 311.3L261.0 310.2L260.1 309.2L259.2 308.1L258.3 307.0L257.5 305.9L256.7 304.8L255.8 303.6L255.0 302.5L254.2 301.3L253.5 300.1L252.7 298.9L251.9 297.7L251.2 296.5L250.5 295.3L249.8 294.0L249.0 292.8L248.4 291.5L247.7 290.2L247.0 288.9L246.3 287.6L245.7 286.3L245.1 284.9L244.4 283.6L243.8 282.2L243.2 280.8L242.7 279.5L242.1 278.1L241.5 276.7L241.0 275.3L240.5 273.8L240.0 272.4L239.5 271.0L239.0 269.5L238.5 268.0L238.1 266.6L237.7 265.1L237.3 263.6L236.9 262.1L236.5 260.6L236.1 259.1L235.8 257.5L235.4 256.0L235.1 254.5L234.8 252.9L234.6 251.4L234.3 249.8L234.1 248.2L233.8 246.7L233.6 245.1L233.4 243.5L233.3 241.9L233.1 240.3L233.0 238.7L232.9 237.1L232.8 235.5L232.7 233.9L232.6 232.2L232.6 230.6L232.5 229.0L232.5 227.3L232.5 225.7L232.5 224.0L232.6 222.4L232.6 220.7L232.7 219.1L232.8 217.4L232.9 215.8L233.0 214.1L233.2 212.5L233.3 210.8L233.5 209.2L233.7 207.5L234.0 205.9L234.2 204.2L234.5 202.6L234.8 200.9L235.1 199.3L235.5 197.7L235.8 196.0L236.2 194.4L236.7 192.8L237.1 191.2L237.6 189.6L238.0 188.0L238.6 186.4L239.1 184.8L239.6 183.2L240.2 181.6L240.8 180.0L241.4 178.4L242.0 176.9L242.6 175.3L243.3 173.7L244.0 172.2L244.7 170.6L245.4 169.1L246.1 167.6L246.9 166.0L247.6 164.5L248.4 163.0L249.2 161.5L250.0 160.0L250.8 158.5L251.7 157.0L252.6 155.5L253.4 154.1L254.3 152.6L255.3 151.1L256.2 149.7L257.1 148.3L258.1 146.8L259.1 145.4L260.0 144.0L261.0 142.6L262.1 141.2L263.1 139.8L264.1 138.4L265.2 137.1L266.3 135.7L267.4 134.4L268.5 133.0L269.6 131.7L270.7 130.4L271.8 129.1L273.0 127.8L274.2 126.5L275.3 125.2L276.5 124.0L277.8 122.7L279.0 121.5L280.2 120.3L281.5 119.1L282.7 117.9L284.0 116.7L285.3 115.5L286.6 114.4L287.9 113.3L289.3 112.1L290.6 111.0L292.0 110.0L293.3 108.9L294.7 107.8L296.1 106.8L297.5 105.8L299.0 104.8L300.4 103.8L301.8 102.8L303.3 101.8L304.8 100.9L306.2 99.9L307.7 99.0L309.2 98.1L310.7 97.2L312.2 96.3L313.7 95.4L315.2 94.6L316.8 93.7L318.3 92.9L319.9 92.1L321.4 91.4L323.0 90.6L324.6 89.8L326.2 89.1L327.8 88.4L329.4 87.7L331.0 87.0L332.6 86.4L334.2 85.7L335.8 85.1L337.5 84.5L339.1 84.0L340.8 83.4L342.4 82.9L344.1 82.3L345.8 81.8L347.5 81.3L349.2 80.8L350.8 80.4L352.5 79.9L354.2 79.5L355.9 79.1L357.6 78.7L359.4 78.3L361.1 78.0L362.8 77.6L364.5 77.3L366.2 77.0L368.0 76.7L369.7 76.4L371.4 76.2L373.1 75.9L374.9 75.7L376.6 75.5L378.4 75.4L380.1 75.2L381.8 75.1L383.6 74.9L385.3 74.8L387.1 74.7L388.8 74.7L390.6 74.6L392.3 74.6L394.0 74.6L395.8 74.7L397.5 74.7L399.3 74.8L401.0 74.9L402.8 75.0L404.5 75.2L406.2 75.3L408.0 75.5L409.7 75.7L411.5 75.9L413.2 76.1L414.9 76.4L416.7 76.7L418.4 76.9L420.1 77.2L421.8 77.6L423.5 77.9L425.3 78.3L427.0 78.6L428.7 79.0L430.4 79.4L432.1 79.9L433.8 80.3L435.5 80.8L437.2 81.2L438.8 81.7L440.5 82.2L442.2 82.7L443.9 83.3L445.5 83.8L447.2 84.4L448.8 85.0L450.4 85.6L452.1 86.3L453.7 86.9L455.3 87.6L456.9 88.3L458.5 89.0L460.1 89.7L461.7 90.4L463.2 91.2L464.8 92.0L466.4 92.8L467.9 93.6L469.4 94.4L471.0 95.3L472.5 96.1L474.0 97.0L475.5 97.9L477.0 98.8L478.5 99.7L480.0 100.7L481.4 101.6L482.9 102.6L484.3 103.6L485.8 104.6L487.2 105.6L488.6 106.6L490.0 107.7L491.4 108.7L492.8 109.8L494.1 110.9L495.5 112.0L496.8 113.1L498.1 114.2L499.5 115.3L500.8 116.5L502.0 117.7L503.3 118.9L504.6 120.1L505.8 121.3L507.0 122.5L508.3 123.8L509.5 125.0L510.6 126.3L511.8 127.6L513.0 128.9L514.1 130.2L515.3 131.5L516.4 132.8L517.5 134.2L518.6 135.5L519.6 136.9L520.7 138.2L521.7 139.6L522.8 141.0L523.8 142.4L524.8 143.8L525.8 145.2L526.8 146.7L527.7 148.1L528.7 149.5L529.6 151.0L530.5 152.4L531.4 153.9L532.3 155.4L533.1 156.9L534.0 158.4L534.8 159.9L535.6 161.4L536.4 162.9L537.2 164.4L538.0 165.9L538.7 167.4L539.4 169.0L540.2 170.5L540.8 172.1L541.5 173.6L542.2 175.2L542.8 176.8L543.4 178.4L544.0 179.9L544.6 181.5L545.2 183.1L545.7 184.7L546.3 186.3L546.8 187.9L547.3 189.5L547.7 191.1L548.2 192.8L548.6 194.4L549.0 196.0L549.4 197.6L549.8 199.3L550.1 200.9L550.4 202.5L550.7 204.2L551.0 205.8L551.2 207.5L551.5 209.1L551.7 210.7L551.9 212.4L552.1 214.0L552.2 215.7L552.4 217.3L552.5 219.0L552.6 220.6L552.7 222.3L552.7 223.9L552.8 225.6L552.8 227.2L552.8 228.8L552.8 230.5L552.8 232.1L552.7 233.7L552.6 235.3L552.6 236.9L552.5 238.6L552.4 240.2L552.2 241.8L552.1 243.3L551.9 244.9L551.7 246.5L551.5 248.1L551.3 249.7L551.1 251.2L550.8 252.8L550.5 254.3L550.2 255.9L549.9 257.4L549.6 258.9L549.2 260.5L548.9 262.0L548.5 263.5L548.1 265.0L547.6 266.5L547.2 268.0L546.8 269.4L546.3 270.9L545.8 272.3L545.3 273.8L544.8 275.2L544.3 276.6L543.7 278.0L543.1 279.4L542.6 280.8L542.0 282.2L541.4 283.6L540.8 284.9L540.1 286.3L539.5 287.6L538.8 288.9L538.1 290.2L537.4 291.5L536.7 292.8L536.0 294.1L535.3 295.3L534.5 296.6L533.8 297.8L533.0 299.0L532.2 300.2L531.4 301.4L530.6 302.6L529.8 303.7L529.0 304.9L528.1 306.0L527.2 307.1L526.4 308.2L525.5 309.3L524.6 310.4L523.6 311.4L522.7 312.4L521.8 313.4L520.8 314.4L519.8 315.4L518.9 316.4L517.9 317.3L516.9 318.2L515.8 319.1L514.8 320.0L513.8 320.9L512.7 321.7L511.6 322.6L510.6 323.4L509.4 324.1L508.3 324.9L507.2 325.6L506.1 326.4L504.9 327.1L503.7 327.7L502.6 328.4L501.4 329.0L500.2 329.6L499.0 330.2L497.8 330.8L496.5 331.4L495.3 331.9L494.1 332.4L492.8 332.9L491.6 333.3L490.4 333.8L489.1 334.2L487.8 334.5L486.5 334.9L485.2 335.2L483.9 335.5L482.5 335.8L481.2 336.1L479.9 336.4L478.6 336.6L477.3 336.8L476.0 337.0L474.7 337.2L473.5 337.4L472.2 337.5L470.9 337.6L469.7 337.7L468.4 337.8L467.1 337.8L465.9 337.9L464.6 337.8L463.3 337.8L462.0 337.7L460.7 337.6L459.4 337.5L458.1 337.3L456.7 337.2L455.4 337.0L454.1 336.8L452.8 336.5L451.5 336.3L450.3 336.0L449.0 335.8L447.8 335.5L446.6 335.2L445.4 334.9L444.2 334.5L443.0 334.2L441.8 333.8L440.6 333.4L439.5 333.0L438.3 332.6L437.2 332.2L436.1 331.8L435.0 331.4L434.0 331.0L433.0 330.6L432.0 330.3L431.0 329.9L430.1 329.6L429.2 329.2L428.3 328.9L427.5 328.5L426.6 328.2L425.8 327.8L425.0 327.4L424.2 327.0L423.4 326.6L422.7 326.2L421.9 325.7L421.1 325.2L420.3 324.7L419.5 324.2L418.7 323.6L417.9 323.1L417.2 322.5L416.4 321.9L415.7 321.3L414.9 320.6L414.2 320.0L413.5 319.3L412.8 318.7L412.1 318.0L411.4 317.3L410.7 316.6L410.0 315.8L409.4 315.1L408.7 314.3L408.1 313.5L407.5 312.7L406.8 311.9L406.3 311.1L405.7 310.4L405.1 309.6L404.6 308.9L404.1 308.2L403.7 307.5L403.2 306.8L402.8 306.1L402.4 305.5L402.0 304.9L401.6 304.2L401.2 303.6L400.9 303.0L400.5 302.3L400.2 301.7L399.9 301.2L399.6 300.7L399.4 300.2L399.1 299.7L398.9 299.1L398.6 298.4L398.3 297.5L398.0 296.3L397.6 294.6L397.1 292.9L396.8 291.4L396.5 290.1L396.3 288.9L396.1 287.8L395.9 286.8L395.8 285.8Z" fill="#e61e26"/><path d="M392.3 286.3V285.00" stroke="#e61e26" stroke-width="6.60" stroke-linecap="round"/>
<path d="M52.9 30.8V286.2" fill="none" stroke="#4d4d4f" stroke-width="1.0"/>
<path d="M52.4 285.7H63.1" fill="none" stroke="#333" stroke-width="1.5"/>
<path d="M44.3 31.3H52.9" stroke="#58585a" stroke-width="0.75"/>
<path d="M44.3 72.1H52.9" stroke="#58585a" stroke-width="0.75"/>
<path d="M43.3 88.4H62.2" stroke="#231f20" stroke-width="2.2"/>
<path d="M44.3 105.0H52.9" stroke="#58585a" stroke-width="0.75"/>
<path d="M44.3 122.9H52.9" stroke="#58585a" stroke-width="0.75"/>
<path d="M44.3 139.2H52.9" stroke="#58585a" stroke-width="0.75"/>
<path d="M43.3 157.8H62.2" stroke="#231f20" stroke-width="2.2"/>
<path d="M44.3 174.1H52.9" stroke="#58585a" stroke-width="0.75"/>
<path d="M44.3 190.8H52.9" stroke="#58585a" stroke-width="0.75"/>
<path d="M44.3 208.9H52.9" stroke="#58585a" stroke-width="0.75"/>
<path d="M44.3 226.6H52.9" stroke="#58585a" stroke-width="0.75"/>
<path d="M43.3 241.8H62.2" stroke="#231f20" stroke-width="2.2"/>
<path d="M44.3 259.3H52.9" stroke="#58585a" stroke-width="0.75"/>
<path d="M44.3 277.3H52.9" stroke="#58585a" stroke-width="0.75"/>
<g font-family="'Liberation Sans', Arial, Helvetica, sans-serif" fill="#231f20" color="#231f20" text-rendering="geometricPrecision">
<text><tspan x="11.12" y="36.37" font-size="13.41" textLength="29.23" lengthAdjust="spacingAndGlyphs" stroke="currentColor" stroke-width="0.25">+5.0</tspan></text>
<text><tspan x="19.29" y="76.71" font-size="13.41" textLength="21.22" lengthAdjust="spacingAndGlyphs" stroke="currentColor" stroke-width="0.25">0.0</tspan></text>
<text><tspan x="12.89" y="94.14" font-size="22.50" font-weight="bold" textLength="5.96" lengthAdjust="spacingAndGlyphs" stroke="currentColor" stroke-width="0.5">-</tspan><tspan x="19.45" y="93.22" font-size="13.41" font-weight="bold" textLength="19.22" lengthAdjust="spacingAndGlyphs">2.0</tspan></text>
<text><tspan x="13.65" y="110.37" font-size="20.00" font-weight="bold" textLength="4.09" lengthAdjust="spacingAndGlyphs" stroke="currentColor" stroke-width="0.5">-</tspan><tspan x="18.78" y="109.81" font-size="13.41" textLength="20.07" lengthAdjust="spacingAndGlyphs" stroke="currentColor" stroke-width="0.25">4.0</tspan></text>
<text><tspan x="13.65" y="128.47" font-size="20.00" font-weight="bold" textLength="4.09" lengthAdjust="spacingAndGlyphs" stroke="currentColor" stroke-width="0.5">-</tspan><tspan x="18.25" y="127.81" font-size="13.41" textLength="20.38" lengthAdjust="spacingAndGlyphs" stroke="currentColor" stroke-width="0.25">6.0</tspan></text>
<text><tspan x="13.65" y="145.17" font-size="20.00" font-weight="bold" textLength="4.09" lengthAdjust="spacingAndGlyphs" stroke="currentColor" stroke-width="0.5">-</tspan><tspan x="18.19" y="144.37" font-size="13.41" textLength="20.63" lengthAdjust="spacingAndGlyphs" stroke="currentColor" stroke-width="0.25">8.0</tspan></text>
<text><tspan x="4.44" y="163.74" font-size="22.50" font-weight="bold" textLength="6.29" lengthAdjust="spacingAndGlyphs" stroke="currentColor" stroke-width="0.5">-</tspan><tspan x="10.76" y="162.86" font-size="13.41" font-weight="bold" textLength="29.80" lengthAdjust="spacingAndGlyphs">10.0</tspan></text>
<text><tspan x="6.10" y="179.27" font-size="20.00" font-weight="bold" textLength="4.23" lengthAdjust="spacingAndGlyphs" stroke="currentColor" stroke-width="0.5">-</tspan><tspan x="11.06" y="178.73" font-size="13.41" textLength="27.42" lengthAdjust="spacingAndGlyphs" stroke="currentColor" stroke-width="0.25">12.0</tspan></text>
<text><tspan x="6.10" y="196.57" font-size="20.00" font-weight="bold" textLength="4.23" lengthAdjust="spacingAndGlyphs" stroke="currentColor" stroke-width="0.5">-</tspan><tspan x="11.06" y="195.90" font-size="13.41" textLength="27.42" lengthAdjust="spacingAndGlyphs" stroke="currentColor" stroke-width="0.25">14.0</tspan></text>
<text><tspan x="6.10" y="214.47" font-size="20.00" font-weight="bold" textLength="4.23" lengthAdjust="spacingAndGlyphs" stroke="currentColor" stroke-width="0.5">-</tspan><tspan x="11.06" y="213.81" font-size="13.41" textLength="27.42" lengthAdjust="spacingAndGlyphs" stroke="currentColor" stroke-width="0.25">16.0</tspan></text>
<text><tspan x="6.10" y="231.77" font-size="20.00" font-weight="bold" textLength="4.23" lengthAdjust="spacingAndGlyphs" stroke="currentColor" stroke-width="0.5">-</tspan><tspan x="11.06" y="231.23" font-size="13.41" textLength="27.42" lengthAdjust="spacingAndGlyphs" stroke="currentColor" stroke-width="0.25">18.0</tspan></text>
<text><tspan x="4.73" y="246.47" font-size="16.67" font-weight="bold" textLength="6.22" lengthAdjust="spacingAndGlyphs" stroke="currentColor" stroke-width="0.5">-</tspan><tspan x="10.77" y="246.76" font-size="13.41" font-weight="bold" textLength="29.70" lengthAdjust="spacingAndGlyphs">20.0</tspan></text>
<text><tspan x="5.91" y="263.13" font-size="14.17" font-weight="bold" textLength="4.83" lengthAdjust="spacingAndGlyphs" stroke="currentColor" stroke-width="0.5">-</tspan><tspan x="9.90" y="264.34" font-size="13.41" textLength="28.85" lengthAdjust="spacingAndGlyphs" stroke="currentColor" stroke-width="0.25">22.0</tspan></text>
<text><tspan x="5.91" y="281.13" font-size="14.17" font-weight="bold" textLength="4.83" lengthAdjust="spacingAndGlyphs" stroke="currentColor" stroke-width="0.5">-</tspan><tspan x="9.90" y="282.41" font-size="13.41" textLength="28.85" lengthAdjust="spacingAndGlyphs" stroke="currentColor" stroke-width="0.25">24.0</tspan></text>
<text><tspan x="64.30" y="289.04" font-size="14.17" font-weight="bold" textLength="5.22" lengthAdjust="spacingAndGlyphs" stroke="currentColor" stroke-width="0.3">-</tspan><tspan x="69.02" y="289.93" font-size="13.55" textLength="28.43" lengthAdjust="spacingAndGlyphs" stroke="currentColor" stroke-width="0.25">25.0</tspan></text>
<text><tspan x="6.49" y="323.71" font-size="17.74" textLength="97.38" lengthAdjust="spacingAndGlyphs" stroke="currentColor" stroke-width="0.2">dB rel. 1V/Pa</tspan></text>
<text><tspan x="7.17" y="479.00" font-size="19.97" textLength="102.68" lengthAdjust="spacingAndGlyphs" stroke="currentColor" stroke-width="0.25">Frequency:</tspan></text>
<text><tspan x="23.72" y="511.52" font-size="19.55" textLength="71.97" lengthAdjust="spacingAndGlyphs" stroke="currentColor" stroke-width="0.7">500 Hz:</tspan></text>
<text><tspan x="10.05" y="537.29" font-size="19.69" textLength="85.88" lengthAdjust="spacingAndGlyphs" stroke="currentColor" stroke-width="0.7">1000 Hz:</tspan></text>
<text><tspan x="10.59" y="562.76" font-size="19.27" textLength="85.13" lengthAdjust="spacingAndGlyphs" stroke="currentColor" stroke-width="0.7">4000 Hz:</tspan></text>
<text><tspan x="371.18" y="93.51" font-size="19.69" textLength="40.81" lengthAdjust="spacingAndGlyphs" stroke="currentColor" stroke-width="0.85">-2.0</tspan></text>
<text><tspan x="364.46" y="163.62" font-size="19.27" textLength="48.36" lengthAdjust="spacingAndGlyphs" stroke="currentColor" stroke-width="0.85">-10.0</tspan></text>
<text><tspan x="366.20" y="250.56" font-size="20.25" textLength="48.59" lengthAdjust="spacingAndGlyphs" stroke="currentColor" stroke-width="0.85">-20.0</tspan></text>
<text><tspan x="386.38" y="21.25" font-size="20.53" textLength="11.70" lengthAdjust="spacingAndGlyphs" stroke="currentColor" stroke-width="0.8">0</tspan><tspan x="398.03" y="16.92" font-size="15.28" textLength="6.26" lengthAdjust="spacingAndGlyphs" stroke="currentColor" stroke-width="0.2">°</tspan></text>
<text><tspan x="109.61" y="292.99" font-size="20.53" font-weight="bold" textLength="24.06" lengthAdjust="spacingAndGlyphs">90</tspan><tspan x="133.05" y="288.22" font-size="14.84" font-weight="bold" textLength="5.99" lengthAdjust="spacingAndGlyphs">°</tspan></text>
<text><tspan x="642.95" y="292.97" font-size="20.53" font-weight="bold" textLength="36.86" lengthAdjust="spacingAndGlyphs">270</tspan><tspan x="678.84" y="288.04" font-size="14.32" font-weight="bold" textLength="5.99" lengthAdjust="spacingAndGlyphs">°</tspan></text>
<text><tspan x="374.16" y="564.23" font-size="20.81" textLength="35.75" lengthAdjust="spacingAndGlyphs" stroke="currentColor" stroke-width="0.8">180</tspan><tspan x="409.02" y="560.07" font-size="15.70" textLength="6.85" lengthAdjust="spacingAndGlyphs" stroke="currentColor" stroke-width="0.2">°</tspan></text>
</g>
<rect x="101" y="501.7" width="26.1" height="10.7" fill="#e61e26"/>
<rect x="101" y="528.3" width="26.1" height="10.9" fill="#3ab2e8"/>
<rect x="101" y="553.7" width="26.1" height="10.4" fill="#1b8b4a"/>
</svg>
</body></html>
